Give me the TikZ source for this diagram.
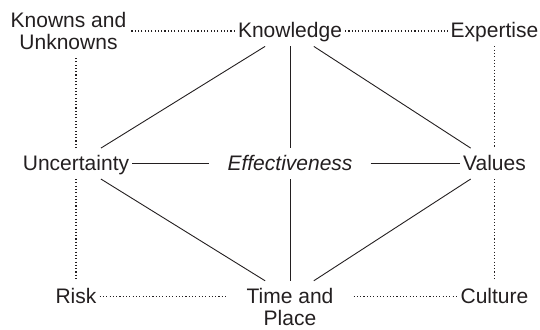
\documentclass[tikz,border=0pt]{standalone}
\usepackage{fontspec}
\setmainfont{Liberation Sans}
\definecolor{ink}{HTML}{231F20}
\begin{document}
\begin{tikzpicture}[x=1pt,y=-1pt,
  lbl/.style={font=\fontsize{21}{22}\selectfont, text=ink, inner xsep=3pt, inner ysep=4pt,
    text height=18pt, text depth=4.5pt, anchor=base},
  multi/.style={font=\fontsize{21}{22}\selectfont, text=ink, align=center,
    inner xsep=3pt, inner ysep=8pt, anchor=north},
  link/.style={line width=0.9pt, draw=ink},
  dots/.style={line width=1.2pt, draw=ink, dash pattern=on 1.1pt off 2.2pt}]
\useasboundingbox (0,0) rectangle (540,329);
% nodes
\node[multi] (KU) at (68.5,3.7) {Knowns and\\Unknowns};
\node[lbl] (K) at (290,37.7) {Knowledge};
\node[lbl] (Ex) at (494.5,37.7) {Expertise};
\node[lbl] (U) at (76,170.3) {Uncertainty};
\node[lbl, inner xsep=18pt, font=\fontsize{21}{22}\selectfont\itshape] (E) at (290,170.3) {Effectiveness};
\node[lbl] (V) at (494.5,170.3) {Values};
\node[lbl] (R) at (76,303) {Risk};
\node[lbl, inner xsep=20pt] (TP) at (290,303) {Time and};
\node[lbl] (TP2) at (290,325) {Place};
\node[lbl] (C) at (494.5,303) {Culture};
% solid connectors
\draw[link] (K) -- (U);
\draw[link] (K) -- (E);
\draw[link] (K) -- (V);
\draw[link] (U) -- (E);
\draw[link] (E) -- (V);
\draw[link] (E) -- (TP);
\draw[link] (U) -- (TP);
\draw[link] (V) -- (TP);
% dotted connectors
\draw[dots] (K) -- (KU.east |- K);
\draw[dots] (K) -- (Ex);
\draw[dots] (U) -- (U |- KU.south);
\draw[dots] (U) -- (R);
\draw[dots] (Ex) -- (V);
\draw[dots] (V) -- (C);
\draw[dots] (R) -- (TP);
\draw[dots] (TP) -- (C);
\end{tikzpicture}
\end{document}
